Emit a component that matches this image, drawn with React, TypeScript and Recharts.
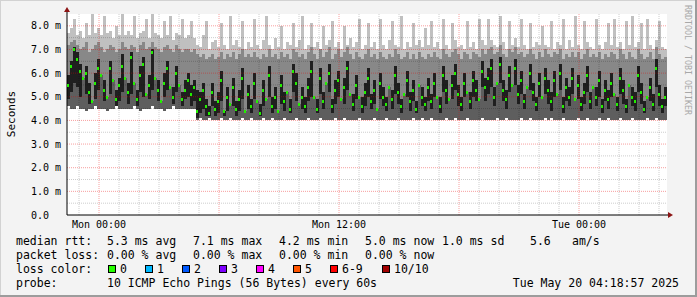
import { ComposedChart, Bar, Line, XAxis, YAxis, ReferenceLine, CartesianGrid } from "recharts";

// one entry per 9-minute column (Sun 22:24 .. Tue 04:24), values in ms
const minV = [
  4.6, 4.5, 4.5, 4.6, 4.5, 4.5, 4.4, 4.5, 4.5, 4.6, 4.5, 4.5, 4.5, 4.4, 4.5, 4.5, 4.6, 4.5, 4.5, 4.5,
  4.5, 4.5, 4.6, 4.5, 4.4, 4.5, 4.5, 4.5, 4.6, 4.5, 4.5, 4.5, 4.4, 4.5, 4.5, 4.6, 4.5, 4.5, 4.5, 4.5,
  4.5, 4.5, 4.5, 4.0, 4.1, 4.0, 4.0, 4.1, 4.0, 4.0, 4.0, 4.1, 4.0, 4.0, 4.1, 4.0, 4.0, 4.0, 4.1, 4.0,
  4.0, 4.1, 4.0, 4.0, 4.0, 4.1, 4.0, 4.0, 4.1, 4.0, 4.0, 4.0, 4.1, 4.0, 4.0, 4.0, 4.1, 4.0, 4.0, 4.0,
  4.1, 4.0, 4.0, 4.0, 4.1, 4.0, 4.0, 4.0, 4.0, 4.1, 4.0, 4.0, 4.1, 4.0, 4.0, 4.0, 4.0, 4.1, 4.0, 4.0,
  4.0, 4.0, 4.1, 4.0, 4.0, 4.0, 4.1, 4.0, 4.0, 4.0, 4.1, 4.0, 4.0, 4.0, 4.0, 4.1, 4.0, 4.0, 4.1, 4.0,
  4.0, 4.1, 4.0, 4.0, 4.0, 4.0, 4.1, 4.0, 4.0, 4.1, 4.0, 4.0, 4.0, 4.1, 4.0, 4.0, 4.0, 4.0, 4.1, 4.0,
  4.0, 4.0, 4.0, 4.1, 4.0, 4.0, 4.1, 4.0, 4.0, 4.0, 4.0, 4.1, 4.0, 4.0, 4.1, 4.0, 4.0, 4.0, 4.0, 4.1,
  4.0, 4.1, 4.0, 4.0, 4.0, 4.1, 4.0, 4.0, 4.0, 4.0, 4.1, 4.0, 4.0, 4.1, 4.0, 4.0, 4.0, 4.1, 4.0, 4.0,
  4.1, 4.0, 4.0, 4.0, 4.1, 4.0, 4.0, 4.0, 4.1, 4.0, 4.0, 4.0, 4.0, 4.1, 4.0, 4.0, 4.1, 4.0, 4.0, 4.0,
];

const coreLo = [
  4.9, 5.2, 5.6, 5.4, 5.0, 5.8, 5.1, 4.7, 4.8, 4.9, 5.3, 5.9, 4.8, 5.0, 5.1, 5.7, 4.6, 4.8, 5.2, 5.8,
  4.7, 5.1, 5.6, 4.6, 5.2, 5.0, 5.1, 4.9, 5.3, 5.8, 4.8, 4.8, 5.0, 5.3, 5.4, 4.7, 5.2, 5.5, 4.6, 4.9,
  5.0, 4.6, 4.8, 4.1, 4.3, 4.5, 4.2, 4.2, 4.6, 4.2, 4.3, 4.8, 4.2, 4.4, 4.7, 4.6, 4.2, 4.4, 4.9, 4.4,
  4.5, 4.3, 4.9, 4.8, 4.2, 4.6, 4.9, 5.0, 4.3, 4.5, 4.4, 4.7, 4.4, 5.2, 4.3, 5.2, 4.8, 4.7, 4.5, 4.3,
  4.8, 5.0, 5.0, 4.3, 5.1, 4.5, 5.6, 5.2, 4.3, 4.7, 5.0, 4.9, 4.7, 5.3, 5.1, 4.4, 4.9, 5.0, 4.3, 4.6,
  5.0, 4.5, 4.7, 4.5, 4.9, 4.6, 4.4, 5.4, 4.5, 5.1, 4.7, 4.3, 5.1, 5.0, 4.4, 4.8, 4.3, 5.5, 4.6, 4.4,
  4.8, 4.5, 5.0, 5.0, 4.3, 5.2, 4.7, 4.9, 4.9, 5.3, 4.6, 4.4, 5.0, 5.2, 4.5, 5.0, 4.8, 4.9, 5.4, 4.8,
  5.1, 5.4, 4.6, 5.6, 5.6, 4.8, 4.5, 5.2, 5.5, 5.5, 4.7, 5.1, 4.5, 5.4, 5.3, 4.8, 4.4, 5.0, 5.0, 5.1,
  4.7, 4.4, 5.0, 5.1, 5.3, 4.3, 4.8, 4.6, 5.1, 4.9, 4.9, 4.4, 4.7, 5.2, 4.5, 5.4, 4.6, 5.0, 4.3, 4.8,
  4.5, 5.0, 5.1, 4.4, 5.1, 4.7, 4.3, 5.5, 4.6, 4.4, 5.2, 4.7, 4.3, 5.0, 4.8, 4.4, 5.4, 4.6, 4.3, 4.6,
];

const coreHi = [
  5.9, 6.5, 7.1, 6.9, 6.4, 5.8, 6.3, 5.6, 4.8, 6.0, 6.6, 5.9, 5.7, 5.0, 6.5, 5.7, 5.3, 5.8, 6.8, 5.8,
  5.6, 6.9, 5.6, 5.3, 6.3, 6.7, 5.1, 5.9, 7.0, 5.8, 5.7, 4.8, 6.0, 6.5, 5.4, 5.4, 6.3, 5.5, 5.2, 5.7,
  6.0, 5.5, 5.7, 5.3, 5.2, 5.6, 4.9, 4.6, 5.6, 4.8, 5.2, 6.1, 4.4, 5.4, 4.7, 5.8, 4.8, 5.3, 6.2, 4.4,
  5.5, 4.9, 6.0, 4.8, 4.7, 5.7, 4.9, 6.3, 5.0, 5.4, 4.4, 5.9, 5.2, 5.2, 4.9, 6.4, 6.0, 4.7, 5.4, 5.0,
  5.8, 6.5, 5.0, 4.9, 6.2, 5.2, 5.6, 6.4, 4.9, 5.7, 6.1, 4.9, 5.8, 6.5, 5.1, 5.1, 5.9, 5.0, 5.0, 5.6,
  6.2, 5.1, 5.7, 4.5, 6.0, 5.4, 5.0, 5.4, 5.3, 6.3, 5.6, 4.9, 5.1, 6.1, 5.2, 5.7, 4.8, 5.5, 5.4, 5.0,
  5.8, 5.1, 6.0, 5.0, 5.0, 6.3, 5.7, 4.9, 5.9, 6.4, 5.5, 5.0, 6.0, 5.2, 5.2, 6.1, 5.7, 4.9, 6.5, 5.8,
  6.2, 6.6, 5.4, 5.6, 6.7, 5.7, 5.3, 6.3, 5.5, 6.6, 5.5, 6.1, 5.1, 5.4, 6.4, 5.6, 5.0, 6.0, 5.0, 6.2,
  5.7, 5.2, 6.1, 5.1, 6.4, 5.0, 5.8, 5.4, 6.2, 4.9, 5.9, 5.0, 5.6, 6.3, 5.2, 5.4, 5.4, 6.1, 4.9, 5.7,
  5.3, 6.0, 5.1, 5.0, 6.2, 5.7, 4.9, 5.5, 5.4, 5.2, 6.3, 5.6, 4.8, 5.0, 5.8, 5.1, 6.6, 5.5, 4.9, 5.4,
];

const upper = [
  7.2, 7.3, 7.4, 7.2, 7.0, 7.1, 7.3, 6.9, 7.0, 7.2, 7.3, 7.1, 6.9, 7.0, 7.2, 7.1, 6.9, 7.0, 7.3, 7.1,
  7.0, 7.2, 7.1, 6.9, 7.2, 7.3, 7.0, 7.1, 7.3, 7.1, 7.0, 6.9, 7.1, 7.2, 7.0, 6.9, 7.2, 7.0, 6.9, 7.0,
  7.0, 6.9, 7.0, 6.8, 6.7, 6.8, 6.6, 6.7, 6.8, 6.6, 6.7, 6.9, 6.6, 6.8, 6.7, 6.9, 6.6, 6.8, 7.0, 6.7,
  6.8, 6.7, 6.9, 6.7, 6.6, 6.8, 6.7, 7.0, 6.7, 6.8, 6.6, 6.9, 6.7, 6.8, 6.6, 7.0, 6.9, 6.7, 6.8, 6.6,
  6.9, 7.1, 6.8, 6.6, 7.0, 6.7, 6.9, 7.1, 6.6, 6.8, 7.0, 6.7, 6.9, 7.1, 6.8, 6.6, 6.9, 6.7, 6.6, 6.8,
  7.0, 6.7, 6.8, 6.6, 6.9, 6.7, 6.6, 6.8, 6.7, 7.0, 6.8, 6.6, 6.7, 6.9, 6.6, 6.8, 6.6, 6.9, 6.7, 6.6,
  6.8, 6.7, 6.9, 6.7, 6.6, 7.0, 6.8, 6.7, 6.9, 7.0, 6.8, 6.6, 6.9, 6.8, 6.6, 6.9, 6.8, 6.7, 7.0, 6.8,
  7.0, 7.1, 6.8, 6.9, 7.2, 6.8, 6.7, 7.0, 6.9, 7.1, 6.8, 6.9, 6.7, 6.8, 7.0, 6.8, 6.6, 6.9, 6.7, 7.0,
  6.8, 6.7, 6.9, 6.8, 7.0, 6.6, 6.8, 6.7, 6.9, 6.7, 6.9, 6.6, 6.8, 7.0, 6.7, 6.8, 6.7, 6.9, 6.6, 6.8,
  6.7, 6.9, 6.8, 6.6, 7.0, 6.8, 6.6, 6.9, 6.7, 6.6, 7.0, 6.8, 6.6, 6.7, 6.9, 6.6, 7.1, 6.8, 6.6, 6.7,
];

const maxV = [
  7.7, 7.9, 8.3, 7.6, 7.8, 7.5, 8.1, 7.6, 8.5, 7.7, 7.9, 7.6, 8.4, 7.7, 7.8, 7.5, 8.0, 7.6, 8.5, 7.6,
  7.8, 7.6, 8.4, 7.5, 7.7, 7.8, 8.3, 7.5, 8.5, 7.7, 7.6, 7.5, 8.2, 7.6, 8.4, 7.4, 7.7, 7.6, 8.3, 7.5,
  7.6, 8.2, 7.5, 7.2, 7.1, 7.6, 8.2, 7.0, 7.3, 7.4, 7.1, 8.1, 7.2, 7.0, 8.4, 7.2, 7.4, 7.1, 8.2, 7.0,
  7.3, 7.1, 8.3, 7.2, 7.0, 7.4, 8.4, 7.2, 7.0, 7.5, 7.1, 8.0, 7.0, 7.3, 7.2, 8.1, 7.1, 7.4, 8.4, 7.0,
  7.2, 8.1, 7.1, 7.3, 7.0, 8.0, 7.2, 7.4, 8.2, 7.1, 7.3, 7.0, 8.0, 7.2, 7.5, 7.1, 7.3, 8.3, 7.0, 7.2,
  8.1, 7.1, 7.3, 7.0, 8.3, 7.2, 7.0, 7.4, 8.2, 7.2, 7.1, 8.4, 7.0, 7.3, 7.1, 8.1, 7.2, 7.4, 7.1, 7.9,
  7.2, 8.2, 7.1, 7.3, 7.0, 8.3, 7.2, 7.0, 8.1, 7.4, 7.1, 7.2, 7.0, 8.2, 7.1, 7.3, 7.0, 8.3, 7.4, 7.2,
  8.3, 7.4, 7.2, 7.1, 8.4, 7.3, 7.0, 8.2, 7.2, 7.5, 7.1, 8.3, 7.2, 7.0, 8.1, 7.1, 7.3, 7.2, 8.0, 7.2,
  7.1, 8.2, 7.0, 7.3, 7.2, 8.3, 7.0, 7.4, 7.1, 8.4, 7.2, 7.0, 8.2, 7.3, 7.1, 7.0, 8.3, 7.2, 7.0, 7.3,
  8.1, 7.2, 8.3, 7.1, 7.3, 7.0, 8.2, 7.2, 8.4, 7.1, 7.3, 8.1, 7.0, 8.3, 7.2, 7.0, 7.4, 8.2, 7.1, 7.0,
];

const median = [
  5.5, 6.3, 7.0, 6.6, 6.1, 5.8, 6.0, 5.2, 4.8, 5.6, 6.2, 5.9, 5.3, 5.0, 6.2, 5.7, 4.9, 5.5, 6.3, 5.8,
  5.2, 6.7, 5.6, 4.9, 5.9, 6.4, 5.1, 5.5, 6.9, 5.8, 5.3, 4.8, 5.6, 6.2, 5.4, 5.0, 6.0, 5.5, 4.9, 5.3,
  5.7, 5.1, 5.4, 4.4, 4.9, 5.3, 4.6, 4.3, 5.2, 4.5, 4.8, 5.7, 4.4, 5.0, 4.7, 5.4, 4.5, 4.9, 5.8, 4.4,
  5.1, 4.6, 5.6, 4.8, 4.3, 5.3, 4.9, 5.9, 4.6, 5.0, 4.4, 5.5, 4.8, 5.2, 4.5, 6.1, 5.6, 4.7, 5.0, 4.6,
  5.4, 6.1, 5.0, 4.5, 5.8, 4.8, 5.6, 6.0, 4.6, 5.3, 5.7, 4.9, 5.4, 6.2, 5.1, 4.7, 5.5, 5.0, 4.6, 5.2,
  5.8, 4.8, 5.3, 4.5, 5.6, 5.0, 4.7, 5.4, 4.9, 5.9, 5.2, 4.6, 5.1, 5.7, 4.8, 5.3, 4.5, 5.5, 5.0, 4.7,
  5.4, 4.8, 5.6, 5.0, 4.6, 5.9, 5.3, 4.9, 5.5, 6.0, 5.1, 4.7, 5.6, 5.2, 4.8, 5.7, 5.3, 4.9, 6.1, 5.4,
  5.8, 6.2, 5.0, 5.6, 6.4, 5.3, 4.9, 5.9, 5.5, 6.2, 5.1, 5.7, 4.8, 5.4, 6.0, 5.2, 4.7, 5.6, 5.0, 5.8,
  5.3, 4.8, 5.7, 5.1, 6.0, 4.6, 5.4, 5.0, 5.8, 4.9, 5.5, 4.7, 5.2, 5.9, 4.8, 5.4, 5.0, 5.7, 4.6, 5.3,
  4.9, 5.6, 5.1, 4.7, 5.8, 5.3, 4.6, 5.5, 5.0, 4.8, 5.9, 5.2, 4.5, 5.0, 5.4, 4.7, 6.2, 5.1, 4.6, 5.0,
];

// time axis in hours relative to Mon 00:00
const startHour = -1.6;
const endHour = 28.4;
const colHours = 0.15; // 9 minutes per column

const yTicks = [0, 1, 2, 3, 4, 5, 6, 7, 8];
const yMinor = [0.5, 1.5, 2.5, 3.5, 4.5, 5.5, 6.5, 7.5];
const yMajor = [1, 2, 3, 4, 5, 6, 7, 8];
const hourTicks = [0, 12, 24];
const hourLabels = ["Mon 00:00", "Mon 12:00", "Tue 00:00"];
const majorHours = [0, 6, 12, 18, 24];
const minorHours = [-1, 1, 2, 3, 4, 5, 7, 8, 9, 10, 11, 13, 14, 15, 16, 17, 19, 20, 21, 22, 23, 25, 26, 27, 28];

const rttStats = ["5.3 ms avg", "7.1 ms max", "4.2 ms min", "5.0 ms now", "1.0 ms sd", "5.6", "am/s"];
const lossStats = ["0.00 % avg", "0.00 % max", "0.00 % min", "0.00 % now"];
const lossLabels = ["0", "1", "2", "3", "4", "5", "6-9", "10/10"];
const lossColors = ["#26ff00", "#00b8ff", "#0059ff", "#7e00ff", "#ff00ff", "#ff5500", "#ff0000", "#a10000"];
const probeText = "10 ICMP Echo Pings (56 Bytes) every 60s";
const stampText = "Tue May 20 04:18:57 2025";

const rttX = [107, 193, 279, 365, 442, 530, 572];
const lossX = [107, 193, 279, 365];
const boxX = [108, 145, 182, 219, 256, 293, 330, 382];

const data = median.map((m, i) => {
  const lo = Math.max(coreLo[i], minV[i]);
  const hi = Math.max(coreHi[i], lo);
  const up = Math.max(upper[i], hi);
  return {
    t: startHour + colHours * (i + 0.5),
    base: minV[i],
    lowBody: lo - minV[i],
    core: hi - lo,
    upBody: up - hi,
    top: Math.max(maxV[i] - up, 0),
    median: m,
  };
});

const MONO = "'DejaVu Sans Mono', monospace";
const RED_GRID = "rgba(235,0,0,0.38)";
const GRAY_GRID = "rgba(0,0,0,0.2)";

const MedianDot = (p: any) => {
  if (p.cx == null || p.cy == null) return <g key={`m${p.index}`} />;
  return (
    <rect key={`m${p.index}`} x={p.cx - 1.5} y={Math.round(p.cy) - 1} width={2} height={3} fill="#22f000" />
  );
};

export default function App() {
  return (
    <div style={{ position: "absolute", left: 0, top: 0, width: 697, height: 297, background: "#f3f3f3" }}>
      <style>{".smoke path, .smoke rect { shape-rendering: crispEdges; }"}</style>
      <div className="smoke">
        <ComposedChart
          width={697}
          height={297}
          data={data}
          barCategoryGap={0}
          barGap={0}
          barSize={3}
          margin={{ top: 14, right: 30, bottom: 52, left: 7 }}
        >
          <CartesianGrid fill="#ffffff" horizontal={false} vertical={false} />
          <XAxis
            dataKey="t"
            type="number"
            domain={[startHour, endHour]}
            ticks={hourTicks}
            tickFormatter={(v: number) => hourLabels[hourTicks.indexOf(v)] ?? ""}
            allowDataOverflow
            height={30}
            axisLine={{ stroke: "#000" }}
            tickLine={false}
            tickSize={2}
            tickMargin={4}
            tick={{ fontSize: 10, fill: "#000", fontFamily: MONO }}
          />
          <YAxis
            type="number"
            domain={[0, 8.5]}
            ticks={yTicks}
            allowDataOverflow
            width={60}
            axisLine={{ stroke: "#000" }}
            tickLine={false}
            tickSize={2}
            tickMargin={4}
            tickFormatter={(v: number) => (v === 0 ? "0.0\u00a0\u00a0" : `${v.toFixed(1)} m`)}
            tick={{ fontSize: 10, fill: "#000", fontFamily: MONO }}
          />
          <Bar dataKey="base" stackId="s" fill="transparent" isAnimationActive={false} />
          <Bar dataKey="lowBody" stackId="s" fill="#5e5e5e" isAnimationActive={false} />
          <Bar dataKey="core" stackId="s" fill="#1f1f1f" isAnimationActive={false} />
          <Bar dataKey="upBody" stackId="s" fill="#888888" isAnimationActive={false} />
          <Bar dataKey="top" stackId="s" fill="#c0c0c0" isAnimationActive={false} />
          <Line dataKey="median" stroke="none" dot={MedianDot} activeDot={false} isAnimationActive={false} />
          {yMinor.map((v) => (
            <ReferenceLine key={`ym${v}`} y={v} stroke={GRAY_GRID} strokeDasharray="1 1" />
          ))}
          {yMajor.map((v) => (
            <ReferenceLine key={`yM${v}`} y={v} stroke={RED_GRID} strokeDasharray="1 1" />
          ))}
          {minorHours.map((h) => (
            <ReferenceLine key={`xm${h}`} x={h} stroke={GRAY_GRID} strokeDasharray="1 1" />
          ))}
          {majorHours.map((h) => (
            <ReferenceLine key={`xM${h}`} x={h} stroke={RED_GRID} strokeDasharray="1 1" />
          ))}
        </ComposedChart>
      </div>

      <svg
        width={697}
        height={297}
        style={{ position: "absolute", left: 0, top: 0, pointerEvents: "none" }}
        fontFamily={MONO}
      >
        <line x1={0} y1={0.5} x2={697} y2={0.5} stroke="#d2d2d2" />
        <line x1={0.5} y1={0} x2={0.5} y2={297} stroke="#d2d2d2" />
        <rect x={0} y={295} width={697} height={2} fill="#9c9c9c" />
        <rect x={695} y={0} width={2} height={297} fill="#9c9c9c" />

        <line x1={67} y1={14} x2={67} y2={10} stroke="#000" />
        <polygon points="64,12 70,12 67,7" fill="#8c1414" />
        <line x1={667} y1={215} x2={669} y2={215} stroke="#000" />
        <polygon points="668,212 668,218 673,215" fill="#8c1414" />

        <text transform="translate(15,114) rotate(-90)" textAnchor="middle" fontSize={11} fill="#000">
          Seconds
        </text>
        <text transform="translate(685,60) rotate(90)" textAnchor="middle" fontSize={8.3} fill="#a8a8a8">
          RRDTOOL / TOBI OETIKER
        </text>

        <g fontSize={11.5} fill="#000">
          <text x={16} y={245}>median rtt:</text>
          {rttStats.map((s, i) => (
            <text key={s} x={rttX[i]} y={245}>{s}</text>
          ))}
          <text x={16} y={259}>packet loss:</text>
          {lossStats.map((s, i) => (
            <text key={s} x={lossX[i]} y={259}>{s}</text>
          ))}
          <text x={16} y={273}>loss color:</text>
          {lossLabels.map((l, i) => (
            <g key={l}>
              <rect x={boxX[i] + 0.5} y={265.5} width={7} height={7} fill={lossColors[i]} stroke="#000" />
              <text x={boxX[i] + 12} y={273}>{l}</text>
            </g>
          ))}
          <text x={16} y={287}>probe:</text>
          <text x={107} y={287}>{probeText}</text>
          <text x={679} y={287} textAnchor="end">{stampText}</text>
        </g>
      </svg>
    </div>
  );
}
